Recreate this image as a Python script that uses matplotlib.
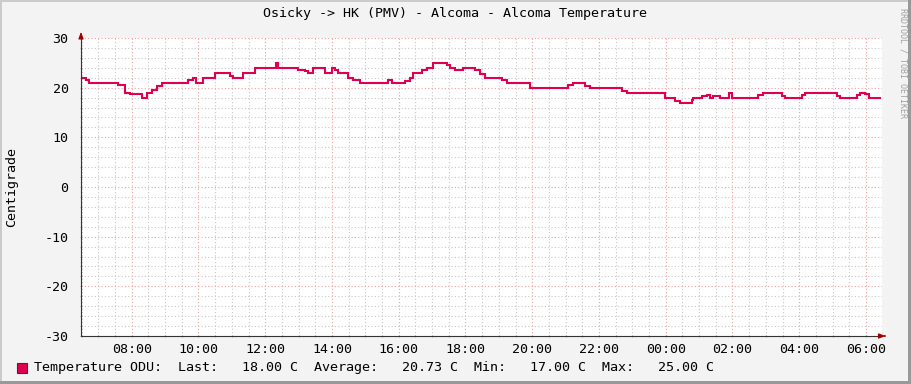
import matplotlib
matplotlib.use("Agg")
import matplotlib.pyplot as plt
from matplotlib.patches import Rectangle
from matplotlib.ticker import MultipleLocator, FixedLocator

# step breakpoints (clock time, temperature); times after midnight are next day
times = ["06:29", "06:38", "06:43", "07:35", "07:48", "07:57", "08:19", "08:28",
         "08:37", "08:46", "08:55", "09:41", "09:50", "09:56", "10:08", "10:30",
         "10:57", "11:02", "11:20", "11:42", "12:20", "12:23", "12:59", "13:12",
         "13:17", "13:26", "13:48", "14:00", "14:06", "14:11", "14:29", "14:38",
         "14:51", "15:41", "15:48", "16:12", "16:21", "16:26", "16:42", "16:51",
         "17:02", "17:27", "17:32", "17:41", "17:56", "18:17", "18:26", "18:35",
         "19:06", "19:15", "19:56", "21:04", "21:13", "21:35", "21:44", "22:42",
         "22:51", "23:59", "00:17", "00:26", "00:48", "00:49", "01:05", "01:14",
         "01:20", "01:25", "01:38", "01:54", "01:59", "02:46", "02:55", "03:29",
         "03:35", "04:05", "04:10", "05:08", "05:13", "05:44", "05:49", "05:58",
         "06:05", "06:25"]
temps = [22, 21.5, 21, 20.5, 19, 18.8, 18, 19,
         19.6, 20.3, 21, 21.5, 22, 21, 22, 23,
         22.4, 22, 23, 24, 25, 24, 23.6, 23.4,
         23, 24, 23, 24, 23.5, 23, 22, 21.5,
         21, 21.6, 21, 21.3, 21.9, 23, 23.5, 24,
         25, 24.6, 24, 23.5, 24, 23.5, 22.8, 22,
         21.5, 21, 20, 20.6, 21, 20.4, 20, 19.4,
         19, 18, 17.4, 17, 17.6, 18, 18.4, 18.6,
         18, 18.4, 18, 19, 18, 18.6, 19, 18.4,
         18, 18.6, 19, 18.4, 18, 18.5, 19, 18.7,
         18, 18]

hour_ticks = list(range(8, 31, 2))
hour_labels = ["%02d:00" % (h % 24) for h in hour_ticks]
y_ticks = [-30, -20, -10, 0, 10, 20, 30]

title = "Osicky -> HK (PMV) - Alcoma - Alcoma Temperature"
legend = "Temperature ODU:  Last:   18.00 C  Average:   20.73 C  Min:   17.00 C  Max:   25.00 C"

line_col = "#E0004F"
mono = "DejaVu Sans Mono"
fs = 9.6


def to_hours(s):
    hh, mm = s.split(":")
    h = int(hh) + int(mm) / 60.0
    if h < 6.45:
        h += 24
    return h


t = [to_hours(s) for s in times]

W, H = 911, 384
fig = plt.figure(figsize=(W / 100, H / 100), dpi=100)
fig.patch.set_facecolor("#F3F3F3")

ax = fig.add_axes([81 / W, 48 / H, 801 / W, 298 / H])
ax.set_facecolor("white")
ax.set_xlim(6.48, 30.48)
ax.set_ylim(-30, 30)

ax.xaxis.set_major_locator(FixedLocator(hour_ticks))
ax.set_xticklabels(hour_labels)
ax.xaxis.set_minor_locator(MultipleLocator(0.5))
ax.yaxis.set_major_locator(FixedLocator(y_ticks))
ax.set_yticklabels([str(v) for v in y_ticks])
ax.yaxis.set_minor_locator(MultipleLocator(2))

ax.grid(which="minor", color="#C8C8C8", ls=(0, (1, 2)), lw=0.8)
ax.grid(which="major", color="#F0A0A0", ls=(0, (1, 2)), lw=0.8)
ax.set_axisbelow(True)

for s in ["top", "right"]:
    ax.spines[s].set_visible(False)
for s in ["left", "bottom"]:
    ax.spines[s].set_color("#333333")
    ax.spines[s].set_linewidth(0.8)

ax.tick_params(which="both", length=2, width=0.6, color="#999999", direction="inout")
ax.tick_params(axis="y", pad=8, labelsize=fs)
ax.tick_params(axis="x", pad=4, labelsize=fs)
for lab in ax.get_xticklabels() + ax.get_yticklabels():
    lab.set_fontfamily(mono)

ax.step(t, temps, where="post", color=line_col, lw=1.5, solid_joinstyle="miter")

# axis arrows
ax.annotate("", xy=(0, 1.03), xytext=(0, 1.0), xycoords="axes fraction",
            arrowprops=dict(arrowstyle="-|>,head_width=0.15,head_length=0.4",
                            color="#A00000", lw=0.8), annotation_clip=False)
ax.annotate("", xy=(1.008, 0), xytext=(1.0, 0), xycoords="axes fraction",
            arrowprops=dict(arrowstyle="-|>,head_width=0.15,head_length=0.4",
                            color="#A00000", lw=0.8), annotation_clip=False)

fig.text(455 / W, 1 - 14 / H, title, ha="center", va="center",
         family=mono, fontsize=fs)
fig.text(12 / W, 1 - 187 / H, "Centigrade", rotation=90, ha="center",
         va="center", family=mono, fontsize=fs)
fig.text(903 / W, 1 - 63 / H, "RRDTOOL / TOBI OETIKER", rotation=270,
         ha="center", va="center", family=mono, fontsize=6, color="#A0A0A0")

fig.add_artist(Rectangle((17 / W, 1 - 373 / H), 10 / W, 10 / H,
                         transform=fig.transFigure, facecolor=line_col,
                         edgecolor="#333333", lw=0.8))
fig.text(33.5 / W, 1 - 368 / H, legend, ha="left", va="center",
         family=mono, fontsize=fs)

# frame shading
fig.add_artist(Rectangle((0, 1 - 2 / H), 1, 2 / H, transform=fig.transFigure,
                         facecolor="#CBCBCB", edgecolor="none"))
fig.add_artist(Rectangle((0, 0), 2 / W, 1, transform=fig.transFigure,
                         facecolor="#CBCBCB", edgecolor="none"))
fig.add_artist(Rectangle((0, 0), 1, 3 / H, transform=fig.transFigure,
                         facecolor="#999999", edgecolor="none"))
fig.add_artist(Rectangle((1 - 3 / W, 0), 3 / W, 1, transform=fig.transFigure,
                         facecolor="#999999", edgecolor="none"))

fig.savefig("out.png", dpi=100, facecolor=fig.get_facecolor())
